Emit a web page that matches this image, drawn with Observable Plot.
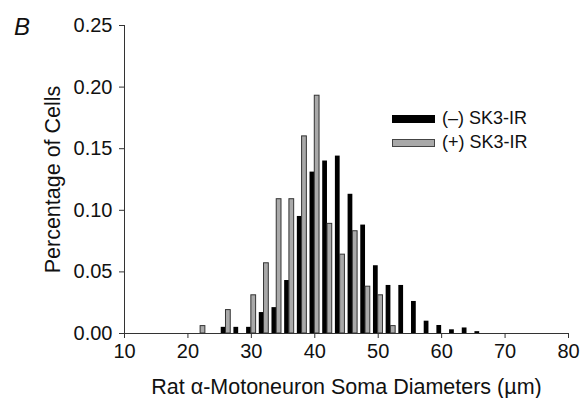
<!DOCTYPE html>
<html>
<head>
<meta charset="utf-8">
<script src="https://cdn.jsdelivr.net/npm/d3@7"></script>
<script src="https://cdn.jsdelivr.net/npm/@observablehq/plot@0.6"></script>
<style>
  html, body { margin: 0; padding: 0; background: #fff; }
  #wrap { position: relative; width: 585px; height: 398px; font-family: Arial, "Liberation Sans", Helvetica, sans-serif; color: #111; }
  #panel { position: absolute; left: 14px; top: 15px; font-size: 24px; font-style: italic; line-height: 1; }
  .leg { position: absolute; left: 392px; font-size: 18px; display: flex; align-items: center; white-space: nowrap; }
  .sw { width: 43px; height: 8px; margin-right: 7px; box-sizing: border-box; }
</style>
</head>
<body>
<div id="wrap">
  <div id="chart"></div>
  <div id="panel">B</div>
  <div class="leg" style="top:108px"><div class="sw" style="background:#000"></div>(–) SK3-IR</div>
  <div class="leg" style="top:132px"><div class="sw" style="background:#a9a9a9;border:1px solid #444"></div>(+) SK3-IR</div>
</div>
<script>
// Bin centres (soma diameter, µm)
const bins = [22, 24, 26, 28, 30, 32, 34, 36, 38, 40, 42, 44, 46, 48, 50, 52, 54, 56, 58, 60, 62, 64, 66];
// (–) SK3-IR fraction of cells
const negValues = [0, 0, 0.005, 0.005, 0.005, 0.017, 0.021, 0.043, 0.095, 0.131, 0.140, 0.144, 0.113, 0.088, 0.055, 0.039, 0.039, 0.026, 0.010, 0.0065, 0.003, 0.0045, 0.0015];
// (+) SK3-IR fraction of cells
const posValues = [0.006, 0, 0.019, 0, 0.031, 0.057, 0.109, 0.109, 0.160, 0.193, 0.089, 0.064, 0.083, 0.038, 0.031, 0.006, 0, 0, 0, 0, 0, 0, 0];
const xTicks = [10, 20, 30, 40, 50, 60, 70, 80];
const yTicks = [0, 0.05, 0.10, 0.15, 0.20, 0.25];

const neg = bins.map((b, i) => ({bin: b, v: negValues[i]})).filter(d => d.v > 0);
const pos = bins.map((b, i) => ({bin: b, v: posValues[i]})).filter(d => d.v > 0);
const half = 0.75;

const font = 'Arial, "Liberation Sans", Helvetica, sans-serif';
const chart = Plot.plot({
  width: 585,
  height: 398,
  marginLeft: 124,
  marginRight: 17,
  marginTop: 25,
  marginBottom: 65,
  style: {fontFamily: font, fontSize: "20px", color: "#111", background: "white"},
  x: {domain: [10, 80]},
  y: {domain: [0, 0.25]},
  marks: [
    Plot.rectY(neg, {x1: d => d.bin - half, x2: d => d.bin, y: "v", fill: "#000"}),
    Plot.rectY(pos, {x1: d => d.bin, x2: d => d.bin + half, y: "v", fill: "#a9a9a9", stroke: "#333", strokeWidth: 1}),
    Plot.ruleY([0], {stroke: "#333"}),
    Plot.ruleX([10], {stroke: "#333"}),
    Plot.axisX({ticks: xTicks, tickSize: 5, tickPadding: 5, fontSize: 20, stroke: "#333", tickFormat: d => d}),
    Plot.axisX({ticks: [], tickSize: 0, fontSize: 21.5,
      label: "Rat α-Motoneuron Soma Diameters (µm)", labelAnchor: "center", labelArrow: "none", labelOffset: 60}),
    Plot.axisY({ticks: yTicks, tickSize: 5, tickPadding: 7, fontSize: 20, stroke: "#333", tickFormat: d3.format(".2f"), label: null}),
    Plot.axisY({ticks: [], tickSize: 0, fontSize: 21.5,
      label: "Percentage of Cells", labelAnchor: "center", labelArrow: "none", labelOffset: 80})
  ]
});
document.getElementById("chart").appendChild(chart);
</script>
</body>
</html>
